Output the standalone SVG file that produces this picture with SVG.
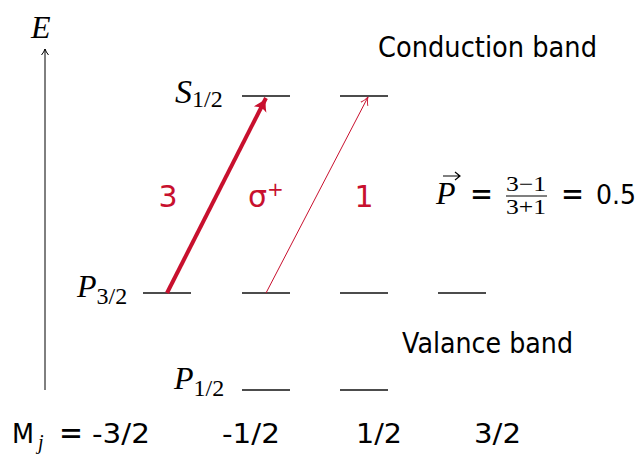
<svg xmlns="http://www.w3.org/2000/svg" width="638" height="454" viewBox="0 0 638 454">
<style>
.lvl{stroke:#111;stroke-width:1.4}
.sans{font-family:"DejaVu Sans","Liberation Sans",sans-serif;fill:#000}
.mi{font-family:"Liberation Serif","DejaVu Serif",serif;font-style:italic;fill:#000}
.rm{font-family:"Liberation Serif","DejaVu Serif",serif;font-style:normal;fill:#000}
.red{fill:#C8102E}
</style>
<defs>
<marker id="ah" markerWidth="8" markerHeight="8" refX="6" refY="4" orient="auto" markerUnits="userSpaceOnUse"><path d="M0,0.5 Q3,3 6,4 Q3,5 0,7.5" fill="none" stroke="#000" stroke-width="1"/></marker>
<marker id="rh" markerWidth="16" markerHeight="16" refX="13" refY="8" orient="auto" markerUnits="userSpaceOnUse"><path d="M0,1 Q7,6 13,8 Q7,10 0,15 Q4,8 0,1Z" fill="#C8102E"/></marker>
<marker id="rt" markerWidth="10" markerHeight="10" refX="8" refY="5" orient="auto" markerUnits="userSpaceOnUse"><path d="M0,1 Q4,4 8,5 Q4,6 0,9" fill="none" stroke="#C8102E" stroke-width="0.9"/></marker>
</defs>
<g id="axis">
<line x1="45" y1="390" x2="45" y2="49" stroke="#000" stroke-width="1" marker-end="url(#ah)"/>
<text class="mi" x="31" y="38" font-size="32">E</text>
</g>
<g id="S12">
<text class="mi" x="175" y="103" font-size="34">S<tspan class="rm" font-size="24" dy="4">1/2</tspan></text>
<line class="lvl" x1="242" y1="96" x2="290" y2="96"/>
<line class="lvl" x1="340" y1="96" x2="388" y2="96"/>
</g>
<g id="P32">
<text class="mi" x="77" y="297" font-size="32">P<tspan class="rm" font-size="24" dy="7">3/2</tspan></text>
<line class="lvl" x1="143" y1="293" x2="191" y2="293"/>
<line class="lvl" x1="242" y1="293" x2="290" y2="293"/>
<line class="lvl" x1="340" y1="293" x2="388" y2="293"/>
<line class="lvl" x1="438" y1="293" x2="486" y2="293"/>
</g>
<g id="P12">
<text class="mi" x="174" y="389" font-size="32">P<tspan class="rm" font-size="24" dy="7">1/2</tspan></text>
<line class="lvl" x1="242" y1="390" x2="290" y2="390"/>
<line class="lvl" x1="340" y1="390" x2="388" y2="390"/>
</g>
<g id="connectors">
<line x1="167" y1="293" x2="266" y2="98" stroke="#C8102E" stroke-width="4" marker-end="url(#rh)"/>
<line x1="266" y1="293" x2="368" y2="97" stroke="#C8102E" stroke-width="1" marker-end="url(#rt)"/>
</g>
<g id="labels">
<text class="sans red" x="168" y="207" font-size="30" text-anchor="middle">3</text>
<text class="sans red" x="248" y="207" font-size="30">σ<tspan font-size="20" dy="-11">+</tspan></text>
<text class="sans red" x="364" y="207" font-size="30" text-anchor="middle">1</text>
<text class="sans" x="378" y="57" font-size="29" textLength="219" lengthAdjust="spacingAndGlyphs">Conduction band</text>
<text class="sans" x="402" y="353" font-size="29" textLength="171" lengthAdjust="spacingAndGlyphs">Valance band</text>
</g>
<g id="formula">
<text class="mi" x="436" y="204" font-size="32">P</text>
<path d="M443,176 L459,176 M455,172 L460,176 L455,180" fill="none" stroke="#000" stroke-width="1.2"/>
<text class="sans" x="470" y="205" font-size="32" textLength="23" lengthAdjust="spacingAndGlyphs">=</text>
<text class="rm" x="526" y="191" font-size="21" text-anchor="middle" textLength="40" lengthAdjust="spacingAndGlyphs">3−1</text>
<line x1="506" y1="196" x2="547" y2="196" stroke="#000" stroke-width="1.1"/>
<text class="rm" x="526" y="214" font-size="21" text-anchor="middle" textLength="40" lengthAdjust="spacingAndGlyphs">3+1</text>
<text class="sans" x="561" y="205" font-size="32" textLength="23" lengthAdjust="spacingAndGlyphs">=</text>
<text class="sans" x="596" y="204" font-size="27" textLength="40" lengthAdjust="spacingAndGlyphs">0.5</text>
</g>
<g id="mj">
<text class="sans" x="12" y="443" font-size="27" textLength="22" lengthAdjust="spacingAndGlyphs">M</text>
<text class="mi" x="38" y="449" font-size="20">j</text>
<text class="sans" x="59" y="444" font-size="32" textLength="24" lengthAdjust="spacingAndGlyphs">=</text>
<text class="sans" x="92" y="443" font-size="27" textLength="58" lengthAdjust="spacingAndGlyphs">-3/2</text>
<text class="sans" x="222" y="443" font-size="27" textLength="58" lengthAdjust="spacingAndGlyphs">-1/2</text>
<text class="sans" x="356" y="443" font-size="27" textLength="46" lengthAdjust="spacingAndGlyphs">1/2</text>
<text class="sans" x="474" y="443" font-size="27" textLength="47" lengthAdjust="spacingAndGlyphs">3/2</text>
</g>
</svg>
